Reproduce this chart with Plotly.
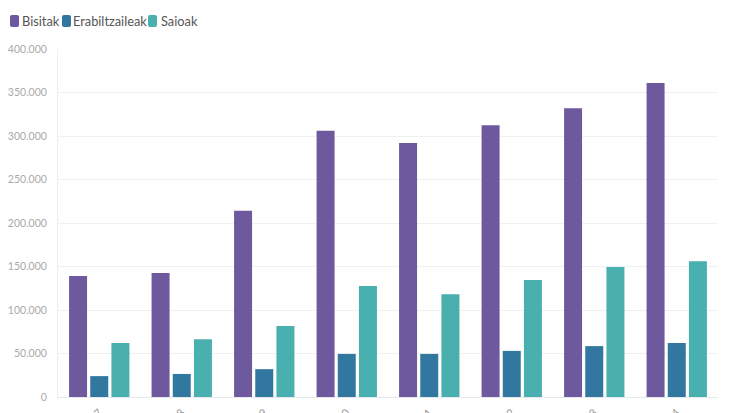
import plotly.graph_objects as go

years = ["2017", "2018", "2019", "2020", "2021", "2022", "2023", "2024"]
bisitak = [139000, 142500, 214000, 306000, 292000, 312500, 332000, 361000]
erabiltzaileak = [24000, 26500, 32000, 49500, 49500, 53000, 58500, 62000]
saioak = [62000, 66500, 81500, 127500, 118000, 134500, 149500, 156000]

series = [
    ("Bisitak", bisitak, "#6e589e"),
    ("Erabiltzaileak", erabiltzaileak, "#31779f"),
    ("Saioak", saioak, "#4aafaf"),
]

W, H = 735, 413
ML, MR, MT, MB = 50, 25, 41, 24
PW, PH = W - ML - MR, H - MT - MB

def px(x):
    return (x - ML) / PW

def py(y):
    return (H - MB - y) / PH

fig = go.Figure()
for name, vals, col in series:
    fig.add_trace(go.Bar(x=years, y=vals, name=name, showlegend=False,
                         marker=dict(color=col, line=dict(width=0))))

# custom legend (rounded swatches + labels)
legend_pos = [(2, 13), (54, 64), (140, 152)]
shapes = []
annotations = []
for (name, vals, col), (bx, tx) in zip(series, legend_pos):
    x0, x1, y0, y1, r = bx, bx + 9, 7, 19, 2
    path = (f"M {px(x0 + r)},{py(y0)} L {px(x1 - r)},{py(y0)} "
            f"Q {px(x1)},{py(y0)} {px(x1)},{py(y0 + r)} L {px(x1)},{py(y1 - r)} "
            f"Q {px(x1)},{py(y1)} {px(x1 - r)},{py(y1)} L {px(x0 + r)},{py(y1)} "
            f"Q {px(x0)},{py(y1)} {px(x0)},{py(y1 - r)} L {px(x0)},{py(y0 + r)} "
            f"Q {px(x0)},{py(y0)} {px(x0 + r)},{py(y0)} Z")
    shapes.append(dict(type="path", xref="paper", yref="paper", path=path,
                       fillcolor=col, line=dict(width=0)))
    annotations.append(dict(text=name, xref="paper", yref="paper", x=px(tx), y=py(13.5),
                            xanchor="left", yanchor="middle", showarrow=False, borderpad=0,
                            font=dict(size=12.8, color="#555555", family="Lato")))

fig.update_layout(
    width=W, height=H,
    margin=dict(l=ML, r=MR, t=MT, b=MB, autoexpand=False),
    paper_bgcolor="white", plot_bgcolor="white",
    font=dict(family="Lato", color="#999999", size=11),
    separators=",.",
    barmode="group", bargap=0.23, bargroupgap=0.15,
    showlegend=False,
    shapes=shapes, annotations=annotations,
    xaxis=dict(tickangle=-45, showgrid=False, showline=True, linecolor="#e8e8e8",
               ticks="", automargin=False, ticklabelstandoff=4,
               tickfont=dict(size=11, color="#999999")),
    yaxis=dict(range=[0, 400000], dtick=50000, tickformat=",.0f", showgrid=True,
               gridcolor="#f0f0f0", zeroline=False, showline=True, linecolor="#f0f0f0",
               automargin=False, ticklabelstandoff=8, tickfont=dict(size=10.5, color="#aaaaaa")),
)

fig.write_html("out.html")
